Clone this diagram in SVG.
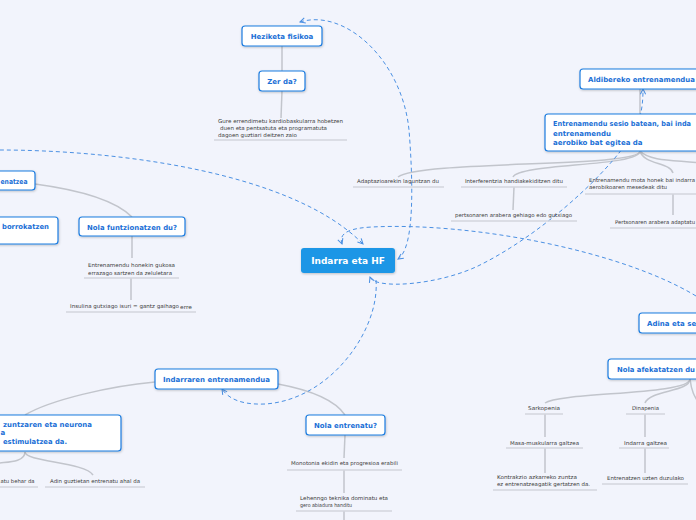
<svg xmlns="http://www.w3.org/2000/svg" width="696" height="520" viewBox="0 0 696 520">
<style>
.node{fill:#ffffff;stroke:#1c7ce0;stroke-width:1.2;filter:url(#sh)}
.nt{font-family:"DejaVu Sans",Verdana,sans-serif;font-weight:bold;font-size:7px;fill:#1a6fd6}
.lt{font-family:"DejaVu Sans",Verdana,sans-serif;font-size:5.3px;fill:#3a3a3a}
.ul{stroke:#d3d6de;stroke-width:1.5;fill:none}
.gl{stroke:#c2c5cc;stroke-width:1.5;fill:none}
.dl{stroke:#4b90e3;stroke-width:1;fill:none;stroke-dasharray:4 3}
</style>
<defs>
<filter id="sh" x="-10%" y="-20%" width="120%" height="150%"><feDropShadow dx="0.5" dy="1" stdDeviation="0.8" flood-color="#000" flood-opacity="0.22"/></filter>
<marker id="arr" viewBox="0 0 8 8" refX="7" refY="4" markerWidth="7" markerHeight="7" orient="auto-start-reverse" markerUnits="userSpaceOnUse"><path d="M1,1 L7,4 L1,7" fill="none" stroke="#4b90e3" stroke-width="1.2"/></marker>
</defs>
<rect x="0" y="0" width="696" height="520" fill="#f2f4fc"/>

<g id="connectors">
<path class="gl" d="M282 46 L282 71"/>
<path class="gl" d="M282 91 L281 118"/>
<path class="gl" d="M640 89 L640 114"/>
<path class="gl" d="M640 151 C640 168 420 160 398 177"/>
<path class="gl" d="M640 151 C640 167 520 163 513 177"/>
<path class="gl" d="M640 151 C644 165 670 162 673 173"/>
<path class="gl" d="M640 151 C650 162 680 160 700 163"/>
<path class="gl" d="M514 187 L513 210"/>
<path class="gl" d="M673 194 L673 215"/>
<path class="gl" d="M35 184 C80 190 115 200 132 217"/>
<path class="gl" d="M132 236 L132 258"/>
<path class="gl" d="M131 278 L131 300"/>
<path class="gl" d="M155 382 C110 386 50 400 25 415"/>
<path class="gl" d="M278 384 C310 390 335 400 345 415"/>
<path class="gl" d="M25 452 C25 462 8 462 0 463"/>
<path class="gl" d="M25 452 C25 462 85 462 93 475"/>
<path class="gl" d="M345 435 L344 458"/>
<path class="gl" d="M344 470 L344 493"/>
<path class="gl" d="M344 511 L344 520"/>
<path class="gl" d="M690 379 C690 395 560 392 545 403"/>
<path class="gl" d="M690 379 C690 392 650 390 645 403"/>
<path class="gl" d="M690 379 C692 395 696 398 700 405"/>
<path class="gl" d="M545 414 L545 437"/>
<path class="gl" d="M545 448 L545 473"/>
<path class="gl" d="M645 414 L645 437"/>
<path class="gl" d="M645 448 L645 473"/>

<path class="dl" d="M0 150 C110 150 290 170 363 244" marker-end="url(#arr)"/>
<path class="dl" d="M696 296 C620 250 470 222 372 227 C352 228 338 232 342 244" marker-end="url(#arr)"/>
<path class="dl" d="M300 22 C345 8 402 60 409 130 C413 180 415 248 398 259" marker-start="url(#arr)" marker-end="url(#arr)"/>
<path class="dl" d="M370 277 C375 290 440 285 480 265 C540 235 600 180 625 145 C640 125 643 110 643 89" marker-start="url(#arr)" marker-end="url(#arr)"/>
<path class="dl" d="M376 280 C380 330 330 400 265 404 C240 405 228 398 222 389" marker-end="url(#arr)"/>
</g>

<g id="center">
<rect x="301" y="248" width="94" height="25" rx="3" fill="#1a96e6" filter="url(#sh)"/>
<text x="348" y="264" text-anchor="middle" font-family="DejaVu Sans,Verdana,sans-serif" font-weight="bold" font-size="9" fill="#ffffff">Indarra eta HF</text>
</g>

<g id="heziketa">
<rect class="node" x="242" y="26" width="80" height="20" rx="3"/>
<text class="nt" x="282" y="39" text-anchor="middle">Heziketa fisikoa</text>
</g>
<g id="zerda">
<rect class="node" x="259" y="71" width="46" height="20" rx="3"/>
<text class="nt" x="282" y="84" text-anchor="middle">Zer da?</text>
</g>
<g id="zerda-text">
<text class="lt" x="218" y="123" textLength="125" lengthAdjust="spacingAndGlyphs">Gure errendimetu kardiobaskularra hobetzen</text>
<text class="lt" x="220" y="130" textLength="107" lengthAdjust="spacingAndGlyphs">duen eta pentsatuta eta programatuta</text>
<text class="lt" x="218" y="137" textLength="79" lengthAdjust="spacingAndGlyphs">dagoen guztiari deitzen zaio</text>
<path class="ul" d="M214 140 L347 140"/>
</g>

<g id="aldibereko">
<rect class="node" x="580" y="69" width="130" height="20" rx="3"/>
<text class="nt" x="588" y="82" textLength="107" lengthAdjust="spacingAndGlyphs">Aldibereko entrenamendua</text>
</g>
<g id="sesio">
<rect class="node" x="545" y="114" width="170" height="37" rx="3"/>
<text class="nt" x="553" y="126" textLength="138" lengthAdjust="spacingAndGlyphs">Entrenamendu sesio batean, bai inda</text>
<text class="nt" x="553" y="135.5">entrenamendu</text>
<text class="nt" x="553" y="145">aerobiko bat egitea da</text>
</g>
<g id="adaptazio">
<text class="lt" x="357" y="183" textLength="82" lengthAdjust="spacingAndGlyphs">Adaptazioarekin laguntzan du</text>
<path class="ul" d="M353 187 L444 187"/>
</g>
<g id="interferentzia">
<text class="lt" x="465" y="183" textLength="98" lengthAdjust="spacingAndGlyphs">Interferentzia handiakekiditzen ditu</text>
<path class="ul" d="M461 187 L567 187"/>
</g>
<g id="pertsonaren1">
<text class="lt" x="455" y="217" textLength="117" lengthAdjust="spacingAndGlyphs">pertsonaren arabera gehiago edo gutxiago</text>
<path class="ul" d="M451 221 L577 221"/>
</g>
<g id="mota">
<text class="lt" x="589" y="182" textLength="106" lengthAdjust="spacingAndGlyphs">Entrenamendu mota honek bai indarra</text>
<text class="lt" x="589" y="189" textLength="78" lengthAdjust="spacingAndGlyphs">aerobikoaren mesedeak ditu</text>
<path class="ul" d="M585 194 L700 194"/>
</g>
<g id="pertsonaren2">
<text class="lt" x="615" y="224" textLength="80" lengthAdjust="spacingAndGlyphs">Pertsonaren arabera adaptatu</text>
<path class="ul" d="M610 228 L700 228"/>
</g>

<g id="entrenatzea">
<rect class="node" x="-20" y="171" width="55" height="19" rx="3"/>
<text class="nt" x="0.5" y="183.5" textLength="27" lengthAdjust="spacingAndGlyphs">enatzea</text>
</g>
<g id="borrokatzen">
<rect class="node" x="-20" y="217" width="78" height="27" rx="3"/>
<text class="nt" x="2" y="228.5" textLength="47" lengthAdjust="spacingAndGlyphs">borrokatzen</text>
</g>
<g id="funtzionatzen">
<rect class="node" x="79" y="217" width="106" height="19" rx="3"/>
<text class="nt" x="87" y="229.5" textLength="90" lengthAdjust="spacingAndGlyphs">Nola funtzionatzen du?</text>
</g>
<g id="gukosa">
<text class="lt" x="88" y="267" textLength="87" lengthAdjust="spacingAndGlyphs">Entrenamendu honekin gukosa</text>
<text class="lt" x="88" y="274.5" textLength="84" lengthAdjust="spacingAndGlyphs">errazago sartzen da zeluletara</text>
<path class="ul" d="M84 278 L179 278"/>
</g>
<g id="insulina">
<text class="lt" x="70" y="307.5" textLength="109" lengthAdjust="spacingAndGlyphs">Insulina gutxiago isuri = gantz gaihago</text>
<text class="lt" x="180" y="309" textLength="12" lengthAdjust="spacingAndGlyphs">erre</text>
<path class="ul" d="M66 312 L196 312"/>
</g>

<g id="indarraren">
<rect class="node" x="155" y="369" width="123" height="20" rx="3"/>
<text class="nt" x="163" y="382" textLength="107" lengthAdjust="spacingAndGlyphs">Indarraren entrenamendua</text>
</g>
<g id="zuntzaren">
<rect class="node" x="-20" y="415" width="141" height="36" rx="3"/>
<text class="nt" x="3" y="427" textLength="89" lengthAdjust="spacingAndGlyphs">zuntzaren eta neurona</text>
<text class="nt" x="0.5" y="435">a</text>
<text class="nt" x="3" y="443.5" textLength="64" lengthAdjust="spacingAndGlyphs">estimulatzea da.</text>
</g>
<g id="beharda">
<text class="lt" x="0.5" y="482.5" textLength="34" lengthAdjust="spacingAndGlyphs">atu behar da</text>
<path class="ul" d="M0 487 L38 487"/>
</g>
<g id="adin">
<text class="lt" x="50" y="482.5" textLength="90" lengthAdjust="spacingAndGlyphs">Adin guztietan entrenatu ahal da</text>
<path class="ul" d="M45 487 L145 487"/>
</g>
<g id="nolaentrenatu">
<rect class="node" x="306" y="415" width="79" height="20" rx="3"/>
<text class="nt" x="314" y="428" textLength="63" lengthAdjust="spacingAndGlyphs">Nola entrenatu?</text>
</g>
<g id="monotonia">
<text class="lt" x="291" y="465" textLength="107" lengthAdjust="spacingAndGlyphs">Monotonia ekidin eta progresioa erabili</text>
<path class="ul" d="M287 470 L402 470"/>
</g>
<g id="lehenngo">
<text class="lt" x="300" y="499.5" textLength="88" lengthAdjust="spacingAndGlyphs">Lehenngo teknika dominatu eta</text>
<text class="lt" x="300" y="506.5" textLength="52" lengthAdjust="spacingAndGlyphs">gero abiadura handitu</text>
<path class="ul" d="M296 511 L392 511"/>
</g>

<g id="adina">
<rect class="node" x="639" y="313" width="80" height="20" rx="3"/>
<text class="nt" x="647" y="326">Adina eta se</text>
</g>
<g id="afekatatzen">
<rect class="node" x="608" y="359" width="100" height="20" rx="3"/>
<text class="nt" x="617" y="372" textLength="78" lengthAdjust="spacingAndGlyphs">Nola afekatatzen du</text>
</g>
<g id="sarkopenia">
<text class="lt" x="528" y="409.5" textLength="32" lengthAdjust="spacingAndGlyphs">Sarkopenia</text>
<path class="ul" d="M525 414 L563 414"/>
</g>
<g id="masa">
<text class="lt" x="510" y="444.5" textLength="69" lengthAdjust="spacingAndGlyphs">Masa-muskularra galtzea</text>
<path class="ul" d="M506 448 L583 448"/>
</g>
<g id="kontrakzio">
<text class="lt" x="497" y="478.5" textLength="80" lengthAdjust="spacingAndGlyphs">Kontrakzio azkarreko zuntza</text>
<text class="lt" x="497" y="485.5" textLength="93" lengthAdjust="spacingAndGlyphs">ez entrenatzeagatik gertatzen da.</text>
<path class="ul" d="M493 490 L597 490"/>
</g>
<g id="dinapenia">
<text class="lt" x="632" y="409.5" textLength="27" lengthAdjust="spacingAndGlyphs">Dinapenia</text>
<path class="ul" d="M626 414 L665 414"/>
</g>
<g id="indarragaltzea">
<text class="lt" x="624" y="444.5" textLength="43" lengthAdjust="spacingAndGlyphs">Indarra galtzea</text>
<path class="ul" d="M619 448 L669 448"/>
</g>
<g id="uzten">
<text class="lt" x="607" y="479.5" textLength="77" lengthAdjust="spacingAndGlyphs">Entrenatzen uzten duzulako</text>
<path class="ul" d="M602 484 L688 484"/>
</g>
</svg>
